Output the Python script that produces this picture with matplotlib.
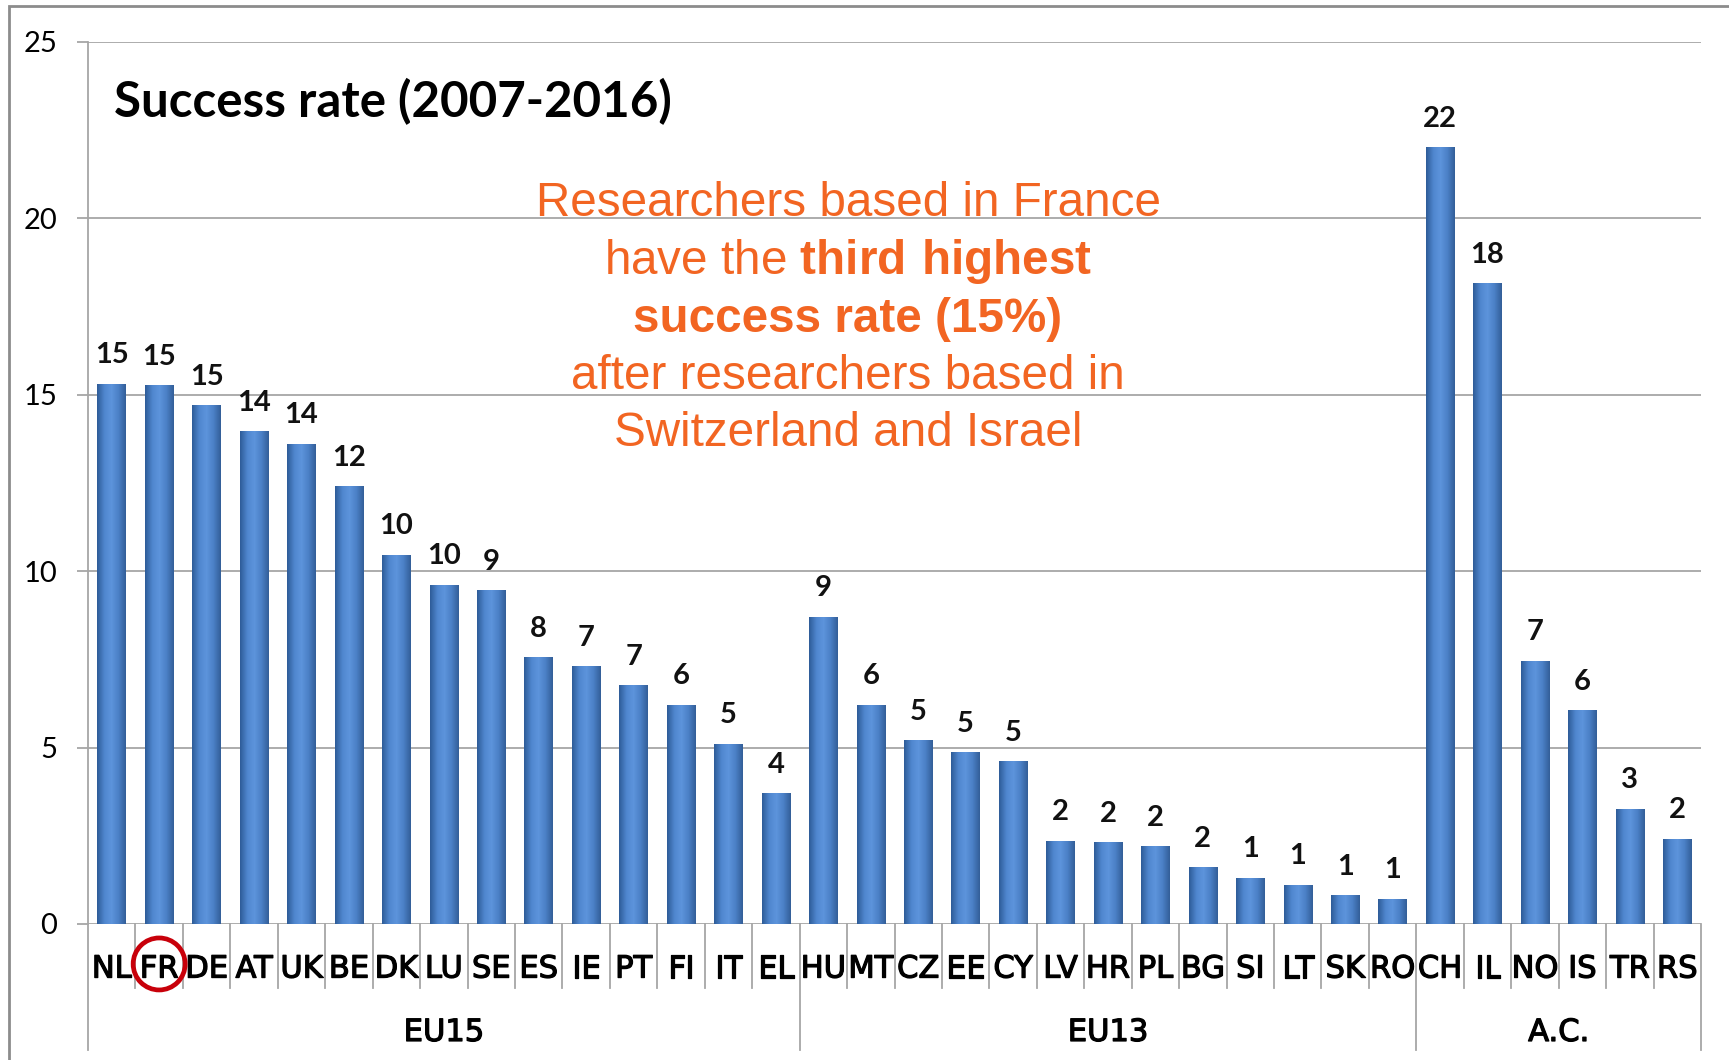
import numpy as np
import matplotlib.pyplot as plt
import matplotlib.patheffects as pe
from matplotlib.patches import Ellipse, Rectangle
from matplotlib.colors import LinearSegmentedColormap

plt.rcParams['mathtext.fontset'] = 'custom'
plt.rcParams['mathtext.rm'] = 'Liberation Sans'
plt.rcParams['mathtext.bf'] = 'Liberation Sans:bold'

countries = ['NL', 'FR', 'DE', 'AT', 'UK', 'BE', 'DK', 'LU', 'SE', 'ES', 'IE', 'PT', 'FI', 'IT', 'EL',
             'HU', 'MT', 'CZ', 'EE', 'CY', 'LV', 'HR', 'PL', 'BG', 'SI', 'LT', 'SK', 'RO',
             'CH', 'IL', 'NO', 'IS', 'TR', 'RS']
rates = [15.3, 15.25, 14.7, 13.95, 13.6, 12.4, 10.45, 9.6, 9.45, 7.55, 7.3, 6.75, 6.2, 5.1, 3.7,
         8.7, 6.2, 5.2, 4.85, 4.6, 2.35, 2.3, 2.2, 1.6, 1.3, 1.1, 0.8, 0.7,
         22.0, 18.15, 7.45, 6.05, 3.25, 2.4]
labels = ['15', '15', '15', '14', '14', '12', '10', '10', '9', '8', '7', '7', '6', '5', '4',
          '9', '6', '5', '5', '5', '2', '2', '2', '2', '1', '1', '1', '1',
          '22', '18', '7', '6', '3', '2']
groups = ['EU15', 'EU13', 'A.C.']
group_sizes = [15, 13, 6]

fig = plt.figure(figsize=(17.29, 10.60), dpi=100)
ax = fig.add_axes([88 / 1729, 1 - 924 / 1060, (1701 - 88) / 1729, (924 - 42) / 1060])

x = np.arange(len(countries))
bars = ax.bar(x, rates, width=0.6, color='#4A7EC4', zorder=2)

# cylinder-like shading on each bar
cmap = LinearSegmentedColormap.from_list('bar', ['#2E5C98', '#4F86CE', '#5D94DC', '#4B80C6', '#335F99'])
grad = np.linspace(0, 1, 64).reshape(1, -1)
for b in bars:
    x0, w, h = b.get_x(), b.get_width(), b.get_height()
    ax.imshow(grad, cmap=cmap, extent=[x0, x0 + w, 0, h], aspect='auto', zorder=3)
    b.set_visible(False)

for xi, v, lab in zip(x, rates, labels):
    ax.text(xi, v + 0.45, lab, ha='center', va='bottom', fontsize=21, fontweight='bold',
            family=['Lato', 'DejaVu Sans'], color='#111111')

ax.set_xlim(-0.5, len(countries) - 0.5)
ax.set_ylim(0, 25)
ax.set_yticks([0, 5, 10, 15, 20, 25])
ax.yaxis.grid(True, color='#A6A6A6', linewidth=1.3, zorder=0)
ax.set_axisbelow(True)
for s in ['top', 'right', 'bottom']:
    ax.spines[s].set_visible(False)
ax.spines['left'].set_color('#A6A6A6')
ax.spines['left'].set_linewidth(1.3)
ax.tick_params(axis='y', length=8, width=1.3, color='#A6A6A6', pad=14, labelsize=21)
for t in ax.get_yticklabels():
    t.set_family(['Lato', 'DejaVu Sans'])

# slightly heavier strokes for the category labels
heavy = [pe.withStroke(linewidth=0.9, foreground='black')]
ax.set_xticks(x)
ax.set_xticklabels(countries, fontsize=22, family=['Liberation Sans Narrow', 'DejaVu Sans'])
for t in ax.get_xticklabels():
    t.set_path_effects(heavy)
ax.tick_params(axis='x', length=0, pad=22)

# category separators and group boundaries below the axis
tr = ax.get_xaxis_transform()
bounds = np.concatenate([[0], np.cumsum(group_sizes)]) - 0.5
for i in range(len(countries) + 1):
    pos = i - 0.5
    y_end = -0.143 if pos in bounds else -0.073
    ax.plot([pos, pos], [0, y_end], transform=tr, color='#A6A6A6', lw=1.3, clip_on=False)

start = 0
for g, n in zip(groups, group_sizes):
    ax.text(start + (n - 1) / 2, -0.123, g, transform=tr, ha='center', va='center',
            fontsize=22, family=['Liberation Sans Narrow', 'DejaVu Sans'], path_effects=heavy)
    start += n

# highlight France
ax.add_patch(Ellipse((1, -0.0453), 52 / 1613 * 34, 52 / 882, transform=tr, fill=False,
                     edgecolor='#C8000A', lw=3.4, clip_on=False, zorder=5))

ax.text(0.016, 0.932, 'Success rate (2007-2016)', transform=ax.transAxes, fontsize=35.5,
        fontweight='bold', family=['Lato', 'DejaVu Sans'], va='center')

orange = '#F26522'
ann_x = 848 / 1729
fsz = 34.3
fam = ['Liberation Sans', 'DejaVu Sans']
fig.text(ann_x, 1 - 203.5 / 1060, 'Researchers based in France', ha='center', va='center',
         fontsize=fsz, color=orange, family=fam)
fig.text(ann_x, 1 - 261.5 / 1060, 'have the $\\mathbf{third\\ highest}$', ha='center', va='center',
         fontsize=fsz, color=orange, family=fam)
fig.text(ann_x, 1 - 319.5 / 1060, 'success rate (15%)', ha='center', va='center',
         fontsize=fsz, color=orange, family=fam, fontweight='bold')
fig.text(ann_x, 1 - 376.5 / 1060, 'after researchers based in', ha='center', va='center',
         fontsize=fsz, color=orange, family=fam)
fig.text(ann_x, 1 - 433.5 / 1060, 'Switzerland and Israel', ha='center', va='center',
         fontsize=fsz, color=orange, family=fam)

fig.patches.append(Rectangle((9 / 1729, -0.01), 1.1, 1 - 6 / 1060 + 0.01, transform=fig.transFigure,
                             fill=False, edgecolor='#8C8C8C', lw=2, figure=fig))

fig.savefig('out.png', dpi=100)
